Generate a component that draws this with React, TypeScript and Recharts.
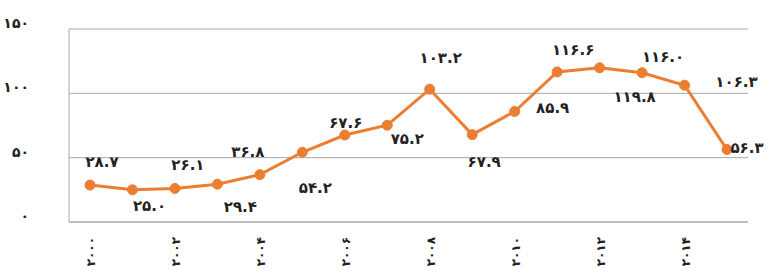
import { LineChart, Line, XAxis, YAxis, CartesianGrid, LabelList } from 'recharts';

const YEARS = ['2000', '2001', '2002', '2003', '2004', '2005', '2006', '2007', '2008', '2009', '2010', '2011', '2012', '2013', '2014', '2015'];
const VALUES = [28.7, 25.0, 26.1, 29.4, 36.8, 54.2, 67.6, 75.2, 103.2, 67.9, 85.9, 116.6, 119.8, 116.0, 106.3, 56.3];
const Y_TICKS = [0, 50, 100, 150];

// where each value label sits relative to its point (dx, dy)
const LABEL_OFFSETS: Array<[number, number]> = [
  [12, -23], [17, 17], [13, -23], [23, 23], [-12, -22], [13, 36], [1, -12], [20, 14],
  [11, -31], [12, 28], [38, -3], [16, -21], [35, 30], [21, -15], [52, -3], [20, -1],
];

const FA = '۰۱۲۳۴۵۶۷۸۹';
const toFa = (s: string) => s.replace(/[0-9]/g, d => FA[Number(d)]);
const fmt = (v: number) => toFa(v.toFixed(1));

const data = YEARS.map((year, i) => ({ year, value: VALUES[i] }));

const FONT = '"DejaVu Sans", sans-serif';

const YTick = ({ x, y, payload }: any) => (
  <text x={x - 32} y={y - 5} textAnchor="end" dominantBaseline="middle" fontFamily={FONT} fontWeight="bold" fontSize={14} fill="#222">
    {toFa(String(payload.value))}
  </text>
);

const XTick = ({ x, y, payload }: any) => {
  const tx = x + 5;
  const ty = y + 7;
  return (
    <text x={tx} y={ty} transform={`rotate(-90 ${tx} ${ty})`} textAnchor="end" fontFamily={FONT} fontWeight="bold" fontSize={12} fill="#222">
      {toFa(payload.value)}
    </text>
  );
};

const ValueLabel = ({ x, y, value, index }: any) => {
  const [dx, dy] = LABEL_OFFSETS[index] || [0, -15];
  return (
    <text x={x + dx} y={y + dy} textAnchor="middle" dominantBaseline="middle" fontFamily={FONT} fontWeight="bold" fontSize={15} fill="#222">
      {fmt(value)}
    </text>
  );
};

export default function App() {
  return (
    <div style={{ position: 'absolute', left: 0, top: 0, background: '#fff' }}>
      <LineChart width={770} height={271} data={data} margin={{ top: 29, right: 22, left: 0, bottom: 0 }}>
        <CartesianGrid vertical={false} stroke="#a6a6a6" />
        <XAxis
          dataKey="year"
          interval={1}
          tickLine={false}
          axisLine={{ stroke: '#a6a6a6' }}
          padding={{ left: 21, right: 21 }}
          tick={<XTick />}
          height={49}
        />
        <YAxis
          domain={[0, 150]}
          ticks={Y_TICKS}
          tickLine={false}
          axisLine={{ stroke: '#a6a6a6' }}
          tick={<YTick />}
          width={69}
        />
        <Line
          dataKey="value"
          stroke="#ED7D31"
          strokeWidth={3}
          dot={{ r: 5, fill: '#ED7D31', stroke: '#ED7D31', strokeWidth: 1 }}
          isAnimationActive={false}
        >
          <LabelList dataKey="value" content={<ValueLabel />} />
        </Line>
      </LineChart>
    </div>
  );
}
